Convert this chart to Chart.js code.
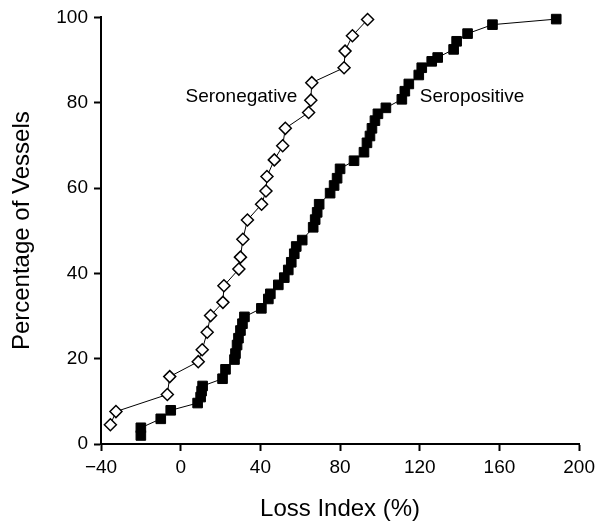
<!DOCTYPE html>
<html>
<head>
<meta charset="utf-8">
<script src="https://cdn.jsdelivr.net/npm/chart.js@4.4.1/dist/chart.umd.min.js"></script>
<style>
    html, body { margin: 0; padding: 0; background: #fff; }
    #chart { display: block; }
</style>
</head>
<body>
<canvas id="chart" width="600" height="527"></canvas>
<script>
// Seronegative vessels (hollow diamonds)
const negX = [-35.3, -32.5, -6.7, -5.5, 8.8, 10.8, 13.3, 15, 21.2, 21.7, 29.2, 30, 31.2, 33.5,
    40.6, 42.8, 43.3, 47, 51.2, 52.5, 64.2, 65.3, 65.8, 82, 82.5, 86.2, 93.8];
const negY = [4.5, 7.6, 11.6, 15.8, 19.3, 22.1, 26.2, 30.1, 33.2, 37.1, 41, 43.8, 48, 52.5,
    56.2, 59.3, 62.7, 66.6, 69.9, 74, 77.7, 80.6, 84.7, 88.2, 92.1, 95.7, 99.5];

// Seropositive vessels (filled squares)
const posX = [-20, -20, -10, -5, 8.5, 10, 10.5, 11, 21, 22.5, 27, 27.5, 28.3, 29, 30, 31, 32,
    40.5, 44, 45, 49, 52, 54, 55.5, 57, 58, 61, 66.5, 67.5, 68.5, 69.5, 75, 77, 78.5, 80,
    87, 92, 93.5, 95, 96, 97.5, 99, 103, 111, 112.5, 114.5, 119.5, 121, 126, 129,
    137, 138.5, 144, 156.5, 188.5];
const posY = [2.0, 3.8, 5.9, 7.9, 9.6, 11.0, 12.4, 13.6, 15.3, 17.5, 19.8, 21.2, 23.2, 24.8, 26.6, 28.2, 29.8,
    31.8, 34, 35.2, 37.3, 39, 40.8, 42.6, 44.6, 46.3, 47.8, 50.8, 52.6, 54.3, 56.2, 58.8, 60.6, 62.3, 64.5,
    66.4, 68.4, 70.6, 72.2, 74, 75.8, 77.4, 78.8, 80.8, 82.7, 84.4, 86.5, 88.2, 89.7, 90.6,
    92.5, 94.4, 96.2, 98.3, 99.6];

// Axis ranges and ticks
const xMin = -40, xMax = 200, xStep = 40;
const yMin = 0, yMax = 100, yStep = 20;

// Curve labels: [text, x, y, align]
const curveLabels = [
    ['Seronegative', 58.6, 81.3, 'right'],
    ['Seropositive', 120, 81.3, 'left']
];

const FONT = '"Liberation Sans", Arial, Helvetica, sans-serif';

const toPoints = (xs, ys) => xs.map((x, i) => ({ x: x, y: ys[i] }));

// Draws the "Seronegative"/"Seropositive" labels next to the curves
const curveLabelPlugin = {
    id: 'curveLabels',
    afterDatasetsDraw(chart) {
        const ctx = chart.ctx;
        const xs = chart.scales.x, ys = chart.scales.y;
        ctx.save();
        ctx.font = '19px ' + FONT;
        ctx.fillStyle = '#000';
        ctx.textBaseline = 'middle';
        curveLabels.forEach(([text, x, y, align]) => {
            ctx.textAlign = align;
            ctx.fillText(text, xs.getPixelForValue(x), ys.getPixelForValue(y));
        });
        ctx.restore();
    }
};

new Chart(document.getElementById('chart'), {
    type: 'line',
    data: {
        datasets: [{
            label: 'Seropositive',
            data: toPoints(posX, posY),
            borderColor: '#000',
            borderWidth: 1,
            pointStyle: 'rect',
            pointRadius: 6.8,
            pointBackgroundColor: '#000',
            pointBorderColor: '#000',
            pointBorderWidth: 1,
            tension: 0,
            clip: false
        }, {
            label: 'Seronegative',
            data: toPoints(negX, negY),
            borderColor: '#000',
            borderWidth: 1,
            pointStyle: 'rectRot',
            pointRadius: 6,
            pointBackgroundColor: '#fff',
            pointBorderColor: '#000',
            pointBorderWidth: 1.5,
            tension: 0,
            clip: false
        }]
    },
    options: {
        responsive: false,
        animation: false,
        layout: { padding: { left: 0, right: 18, top: 17, bottom: 0 } },
        plugins: {
            legend: { display: false },
            tooltip: { enabled: false }
        },
        scales: {
            x: {
                type: 'linear',
                min: xMin,
                max: xMax,
                border: { display: true, color: '#000', width: 2 },
                grid: { drawOnChartArea: false, drawTicks: true, tickLength: 7, tickWidth: 2, tickColor: '#000' },
                ticks: {
                    stepSize: xStep,
                    color: '#000',
                    padding: 5,
                    font: { family: FONT, size: 19 },
                    callback: (v) => String(v).replace('-', '\u2212')
                },
                title: {
                    display: true,
                    text: 'Loss Index (%)',
                    color: '#000',
                    font: { family: FONT, size: 24 },
                    padding: { top: 0, bottom: 3 }
                },
                afterFit: (scale) => { scale.height = 83; }
            },
            y: {
                type: 'linear',
                min: yMin,
                max: yMax,
                border: { display: true, color: '#000', width: 2 },
                grid: { drawOnChartArea: false, drawTicks: true, tickLength: 7, tickWidth: 2, tickColor: '#000' },
                ticks: {
                    stepSize: yStep,
                    color: '#000',
                    padding: 6,
                    font: { family: FONT, size: 19 }
                },
                title: {
                    display: true,
                    text: 'Percentage of Vessels',
                    color: '#000',
                    font: { family: FONT, size: 24 },
                    padding: { top: 8, bottom: 0 }
                },
                afterFit: (scale) => { scale.width = 101; }
            }
        }
    },
    plugins: [curveLabelPlugin]
});
</script>
</body>
</html>
